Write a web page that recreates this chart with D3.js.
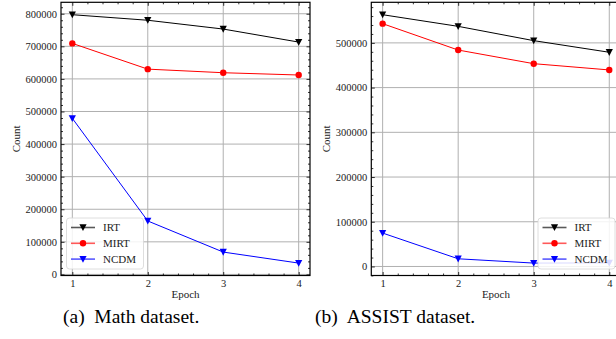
<!DOCTYPE html>
<html>
<head>
<meta charset="utf-8">
<script src="https://cdn.jsdelivr.net/npm/d3@7"></script>
<style>
  body { margin: 0; background: #fff; }
  svg { display: block; }
</style>
</head>
<body>
<svg id="chart" width="616" height="339"></svg>
<script>
// values
const epochs = [1, 2, 3, 4];
const series_names = ["IRT", "MIRT", "NCDM"];

const math_irt = [797000, 780000, 753000, 713000];
const math_mirt = [709000, 630000, 619000, 612000];
const math_ncdm = [479000, 164000, 68600, 34800];

const assist_irt = [563000, 537000, 505000, 479000];
const assist_mirt = [543000, 484000, 453500, 439500];
const assist_ncdm = [74700, 17200, 7600, 8000];

const math_yticks = [0, 100000, 200000, 300000, 400000, 500000, 600000, 700000, 800000];
const assist_yticks = [0, 100000, 200000, 300000, 400000, 500000];

const colors = ["#000000", "#ff0000", "#0000ff"];
const markers = ["tri", "circle", "tri"];
const font_name = "Liberation Serif";

const svg = d3.select("#chart").attr("font-family", font_name);

function draw_marker(g, kind, x, y, color) {
  if (kind == "circle") {
    g.append("circle").attr("cx", x).attr("cy", y).attr("r", 3.2).attr("fill", color);
  } else {
    g.append("path")
      .attr("d", `M${x - 3.6},${y - 3.2}L${x + 3.6},${y - 3.2}L${x},${y + 3.6}Z`)
      .attr("fill", color);
  }
}

function draw_panel(opt) {
  const left = opt.left, right = opt.right, top = 2.3, bottom = 275.5;
  const all = [].concat(...opt.series);
  const lo = d3.min(all), hi = d3.max(all);
  const pad = (hi - lo) * 0.05;

  const x = d3.scaleLinear().domain([0.85, 4.15]).range([left, right]);
  const y = d3.scaleLinear().domain([lo - pad, hi + pad]).range([bottom, top]);

  const g = svg.append("g").attr("font-family", font_name);

  // grid
  g.selectAll(".gx").data(epochs).enter().append("line")
    .attr("x1", d => x(d)).attr("x2", d => x(d)).attr("y1", top).attr("y2", bottom)
    .attr("stroke", "#b0b0b0").attr("stroke-width", 1);
  g.selectAll(".gy").data(opt.yticks).enter().append("line")
    .attr("x1", left).attr("x2", right).attr("y1", d => y(d)).attr("y2", d => y(d))
    .attr("stroke", "#b0b0b0").attr("stroke-width", 1);

  // minor tick positions
  const xminor = d3.range(0.8, 4.2, 0.2).filter(v => Math.abs(v - Math.round(v)) > 0.01 && v > 0.85 && v < 4.15);
  const ystep = 20000;
  const yminor = d3.range(Math.ceil((lo - pad) / ystep) * ystep, hi + pad, ystep).filter(v => v % 100000 != 0);

  function tickset(axis, vals, size, labels) {
    return axis.tickValues(vals).tickSize(-size).tickSizeOuter(0).tickPadding(labels ? 4 : 0)
      .tickFormat(labels ? d3.format("d") : "");
  }

  const axes = [
    [d3.axisBottom, `translate(0,${bottom})`, x, epochs, xminor, true],
    [d3.axisTop, `translate(0,${top})`, x, epochs, xminor, false],
    [d3.axisLeft, `translate(${left},0)`, y, opt.yticks, yminor, true],
    [d3.axisRight, `translate(${right},0)`, y, opt.yticks, yminor, false]
  ];
  axes.forEach(a => {
    const major = g.append("g").attr("transform", a[1]).call(tickset(a[0](a[2]), a[3], 3.5, a[5]));
    const minor = g.append("g").attr("transform", a[1]).call(tickset(a[0](a[2]), a[4], 2, false));
    [major, minor].forEach(s => {
      s.attr("font-family", font_name);
      s.select(".domain").remove();
      s.selectAll("line").attr("stroke", "#000").attr("stroke-width", 0.8);
      s.selectAll("text").attr("font-family", font_name).attr("font-size", "10.5px").attr("fill", "#222");
    });
  });

  // frame
  g.append("rect").attr("x", left).attr("y", top).attr("width", right - left).attr("height", bottom - top)
    .attr("fill", "none").attr("stroke", "#000").attr("stroke-width", 1.2);

  // series
  const line = d3.line().x((d, i) => x(epochs[i])).y(d => y(d));
  opt.series.forEach((vals, k) => {
    g.append("path").datum(vals).attr("d", line)
      .attr("fill", "none").attr("stroke", colors[k]).attr("stroke-width", 1);
    vals.forEach((v, i) => draw_marker(g, markers[k], x(epochs[i]), y(v), colors[k]));
  });

  // axis titles
  g.append("text").attr("x", (left + right) / 2).attr("y", 297.5).attr("text-anchor", "middle")
    .attr("font-family", font_name).attr("font-size", "11px").attr("fill", "#222").text("Epoch");
  g.append("text").attr("transform", `translate(${opt.ylabel_x},${(top + bottom) / 2}) rotate(-90)`)
    .attr("text-anchor", "middle").attr("font-family", font_name).attr("font-size", "11px")
    .attr("fill", "#222").text("Count");

  // legend
  const lg = g.append("g").attr("transform", `translate(${opt.legend_x},218)`);
  lg.append("rect").attr("width", 77).attr("height", 51).attr("rx", 3)
    .attr("fill", "#fff").attr("fill-opacity", 0.85).attr("stroke", "#d6d6d6").attr("stroke-width", 0.8);
  series_names.forEach((name, k) => {
    const yy = 9.5 + k * 15.8;
    lg.append("line").attr("x1", 4.5).attr("x2", 28.5).attr("y1", yy).attr("y2", yy)
      .attr("stroke", colors[k]).attr("stroke-opacity", 0.65).attr("stroke-width", 1.6);
    draw_marker(lg, markers[k], 16.5, yy, colors[k]);
    lg.append("text").attr("x", 36.5).attr("y", yy + 3.7).attr("font-family", font_name)
      .attr("font-size", "11px").attr("fill", "#222").text(name);
  });

  // caption
  svg.append("text").attr("x", opt.cap_x).attr("y", 323).attr("font-family", font_name)
    .attr("font-size", "19.5px").attr("fill", "#000").text(opt.cap_tag);
  svg.append("text").attr("x", opt.cap_x2).attr("y", 323).attr("font-family", font_name)
    .attr("font-size", "19.5px").attr("fill", "#000").text(opt.cap_text);
}

draw_panel({
  left: 61, right: 310,
  series: [math_irt, math_mirt, math_ncdm],
  yticks: math_yticks,
  ylabel_x: 19.5,
  legend_x: 66.5,
  cap_x: 63, cap_x2: 94.3, cap_tag: "(a)", cap_text: "Math dataset."
});

draw_panel({
  left: 371.3, right: 620.6,
  series: [assist_irt, assist_mirt, assist_ncdm],
  yticks: assist_yticks,
  ylabel_x: 329.5,
  legend_x: 538,
  cap_x: 315, cap_x2: 346.7, cap_tag: "(b)", cap_text: "ASSIST dataset."
});
</script>
</body>
</html>
